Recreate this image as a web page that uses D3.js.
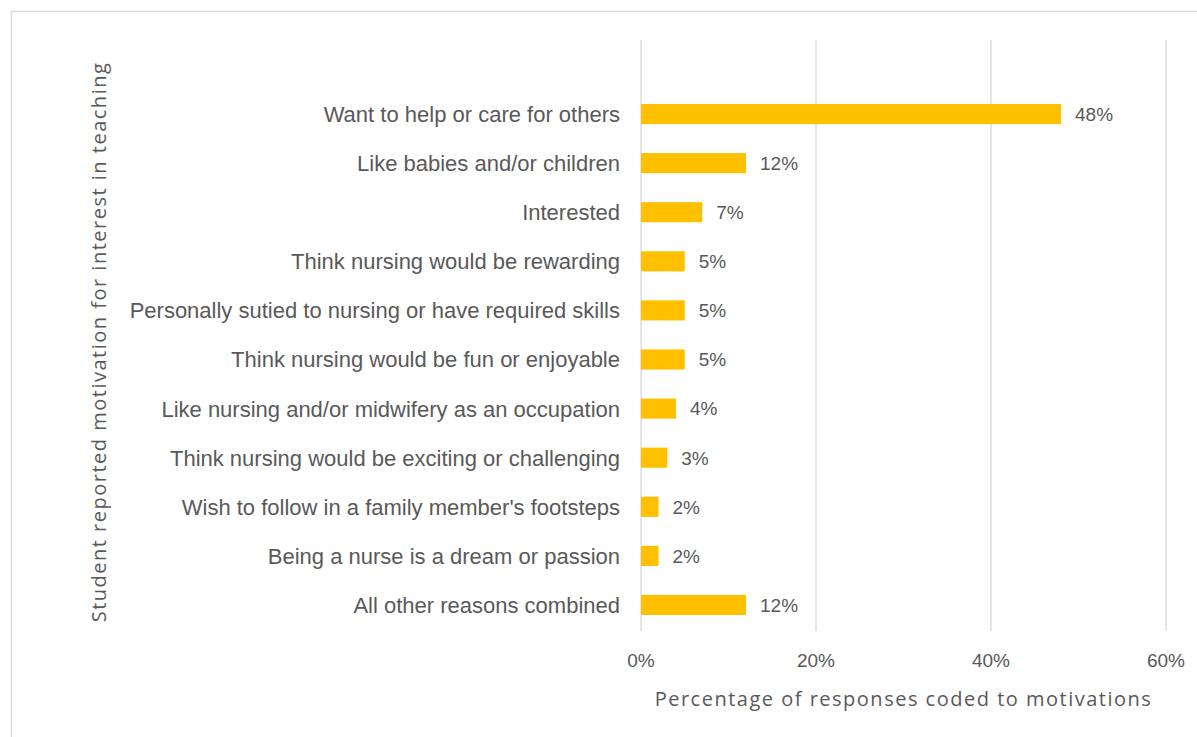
<!DOCTYPE html>
<meta charset="utf-8">
<style>
  body { margin: 0; background: #fff; }
  svg { display: block; }
  .cat, .val, .tick-lbl { font-family: "Liberation Sans", Arial, sans-serif; fill: #595959; }
  .ttl { font-family: "Open Sans", sans-serif; fill: #595959; letter-spacing: 1.5px; }
</style>
<body>
<svg width="1197" height="737"></svg>
<script src="https://d3js.org/d3.v7.min.js"></script>
<script>
// data
const categories = [
  "Want to help or care for others",
  "Like babies and/or children",
  "Interested",
  "Think nursing would be rewarding",
  "Personally sutied to nursing or have required skills",
  "Think nursing would be fun or enjoyable",
  "Like nursing and/or midwifery as an occupation",
  "Think nursing would be exciting or challenging",
  "Wish to follow in a family member's footsteps",
  "Being a nurse is a dream or passion",
  "All other reasons combined"
];
const values = [48, 12, 7, 5, 5, 5, 4, 3, 2, 2, 12];
const xTicks = [0, 20, 40, 60];
const xTitle = "Percentage of responses coded to motivations";
const yTitle = "Student reported motivation for interest in teaching";

const svg = d3.select("svg");

// chart frame
svg.append("rect")
  .attr("x", 11.5).attr("y", 11.5)
  .attr("width", 1200).attr("height", 740)
  .attr("fill", "none").attr("stroke", "#d9d9d9").attr("stroke-width", 1.5);

const x = d3.scaleLinear().domain([0, 60]).range([641, 1166]);
const y = d3.scaleBand().domain(categories).range([89.5, 629.5])
  .paddingInner(0.59).paddingOuter(0.295);

const gridTop = 40, gridBottom = 631;

// gridlines
svg.append("g").selectAll("line")
  .data(xTicks)
  .join("line")
    .attr("x1", d => x(d)).attr("x2", d => x(d))
    .attr("y1", gridTop).attr("y2", gridBottom)
    .attr("stroke", "#d9d9d9").attr("stroke-width", 1.3);

// tick labels
svg.append("g").selectAll("text")
  .data(xTicks)
  .join("text")
    .attr("class", "tick-lbl")
    .attr("x", d => x(d)).attr("y", 667)
    .attr("text-anchor", "middle")
    .attr("font-size", 19)
    .text(d => d + "%");

// bars
svg.append("g").selectAll("rect")
  .data(values)
  .join("rect")
    .attr("x", x(0))
    .attr("y", (d, i) => y(categories[i]))
    .attr("width", d => x(d) - x(0))
    .attr("height", y.bandwidth())
    .attr("fill", "#ffc000");

// value labels
svg.append("g").selectAll("text")
  .data(values)
  .join("text")
    .attr("class", "val")
    .attr("x", d => x(d) + 14)
    .attr("y", (d, i) => y(categories[i]) + y.bandwidth() / 2)
    .attr("dy", "0.36em")
    .attr("font-size", 19)
    .text(d => d + "%");

// category labels
svg.append("g").selectAll("text")
  .data(categories)
  .join("text")
    .attr("class", "cat")
    .attr("x", 620)
    .attr("y", d => y(d) + y.bandwidth() / 2)
    .attr("dy", "0.36em")
    .attr("text-anchor", "end")
    .attr("font-size", 22)
    .text(d => d);

// axis titles
svg.append("text")
  .attr("class", "ttl")
  .attr("x", (x(0) + x(60)) / 2).attr("y", 706)
  .attr("text-anchor", "middle")
  .attr("font-size", 20)
  .text(xTitle);

svg.append("text")
  .attr("class", "ttl")
  .attr("transform", "translate(106,342) rotate(-90)")
  .attr("text-anchor", "middle")
  .attr("font-size", 20)
  .text(yTitle);
</script>
</body>
